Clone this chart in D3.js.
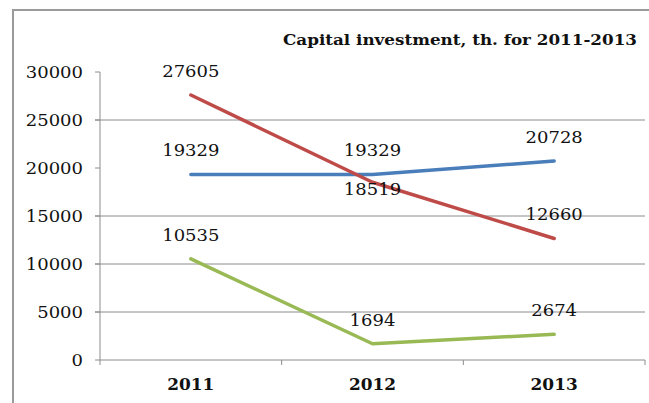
<!DOCTYPE html>
<html>
<head>
<meta charset="utf-8">
<script src="https://cdn.jsdelivr.net/npm/d3@7"></script>
<style>
  html, body { margin: 0; padding: 0; background: #fff; }
  svg { display: block; }
</style>
</head>
<body>
<div id="chart"></div>
<script>
// capital investment 2011-2013, three series
const years = ["2011", "2012", "2013"];
const seriesBlue = [19329, 19329, 20728];
const seriesRed = [27605, 18519, 12660];
const seriesGreen = [10535, 1694, 2674];
const yTicks = [0, 5000, 10000, 15000, 20000, 25000, 30000];
const gridValues = [5000, 10000, 15000, 25000];
const title = "Capital investment, th. for 2011-2013";

const W = 649, H = 403;
const STRETCH = 1.06;
const FONT = "DejaVu Serif";

const series = [
  { values: seriesBlue, color: "#4a7ebb", below: [false, false, false] },
  { values: seriesRed, color: "#be4b48", below: [false, true, false] },
  { values: seriesGreen, color: "#98b954", below: [false, false, false] },
];

const svg = d3.select("#chart").append("svg").attr("width", W).attr("height", H);

// outer frame, runs off the right and bottom edge
svg.append("rect")
  .attr("x", 13).attr("y", 10)
  .attr("width", W).attr("height", H)
  .attr("fill", "none").attr("stroke", "#9a9a9a").attr("stroke-width", 2);

const x = d3.scaleBand().domain(years).range([100, 645]);
const y = d3.scaleLinear().domain([0, 30000]).range([360, 72]);
const cx = (d) => x(d) + x.bandwidth() / 2;

function stretchedText(sel, px, py) {
  return sel.attr("transform", `translate(${px},${py}) scale(${STRETCH},1)`);
}

// grid
svg.append("g")
  .selectAll("line")
  .data(gridValues)
  .join("line")
  .attr("x1", 95).attr("x2", 645)
  .attr("y1", (d) => y(d)).attr("y2", (d) => y(d))
  .attr("stroke", "#8c8c8c").attr("stroke-width", 1);

// y axis
const yAxis = svg.append("g");
yAxis.append("line")
  .attr("x1", 100).attr("x2", 100)
  .attr("y1", y(30000)).attr("y2", y(0))
  .attr("stroke", "#8c8c8c");
yAxis.selectAll("line.tick")
  .data(yTicks)
  .join("line")
  .attr("class", "tick")
  .attr("x1", 95).attr("x2", 100)
  .attr("y1", (d) => y(d)).attr("y2", (d) => y(d))
  .attr("stroke", "#8c8c8c");
yAxis.selectAll("text")
  .data(yTicks)
  .join("text")
  .each(function (d) { stretchedText(d3.select(this), 83, y(d) + 6); })
  .attr("text-anchor", "end")
  .attr("font-family", FONT)
  .attr("font-size", 17)
  .attr("fill", "#111")
  .text((d) => d);

// x axis
const xAxis = svg.append("g");
xAxis.append("line")
  .attr("x1", 100).attr("x2", 645)
  .attr("y1", y(0)).attr("y2", y(0))
  .attr("stroke", "#8c8c8c");
xAxis.selectAll("line.tick")
  .data([100, ...years.map((d) => x(d) + x.bandwidth())])
  .join("line")
  .attr("class", "tick")
  .attr("x1", (d) => d).attr("x2", (d) => d)
  .attr("y1", y(0)).attr("y2", y(0) + 5)
  .attr("stroke", "#8c8c8c");
xAxis.selectAll("text")
  .data(years)
  .join("text")
  .each(function (d) { stretchedText(d3.select(this), cx(d), 390); })
  .attr("text-anchor", "middle")
  .attr("font-family", FONT)
  .attr("font-size", 16)
  .attr("font-weight", "bold")
  .attr("fill", "#111")
  .text((d) => d);

// lines
const line = d3.line()
  .x((d, i) => cx(years[i]))
  .y((d) => y(d));

svg.append("g")
  .selectAll("path")
  .data(series)
  .join("path")
  .attr("d", (s) => line(s.values))
  .attr("fill", "none")
  .attr("stroke", (s) => s.color)
  .attr("stroke-width", 3.5)
  .attr("stroke-linecap", "round")
  .attr("stroke-linejoin", "round");

// value labels
const labels = series.flatMap((s) => s.values.map((v, i) => ({ v, year: years[i], below: s.below[i] })));
svg.append("g")
  .selectAll("text")
  .data(labels)
  .join("text")
  .each(function (d) { stretchedText(d3.select(this), cx(d.year), y(d.v) + (d.below ? 13 : -18)); })
  .attr("text-anchor", "middle")
  .attr("font-family", FONT)
  .attr("font-size", 17)
  .attr("fill", "#111")
  .text((d) => d.v);

// title
svg.append("text")
  .attr("x", 283).attr("y", 45)
  .attr("textLength", 354)
  .attr("lengthAdjust", "spacingAndGlyphs")
  .attr("font-family", FONT)
  .attr("font-size", 15)
  .attr("font-weight", "bold")
  .attr("fill", "#111")
  .text(title);
</script>
</body>
</html>
